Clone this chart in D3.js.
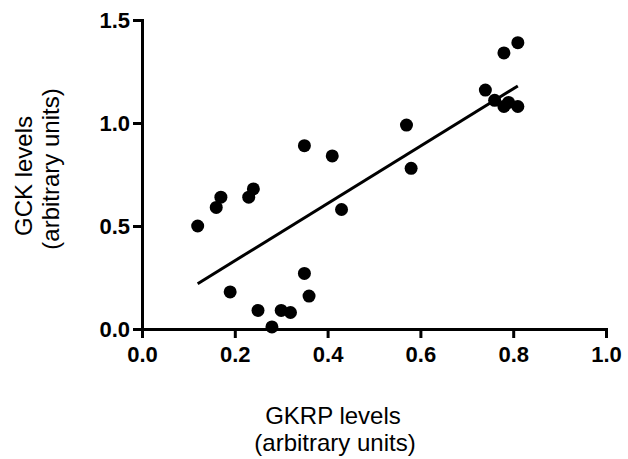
<!DOCTYPE html>
<html>
<head>
<meta charset="utf-8">
<script src="https://cdn.jsdelivr.net/npm/d3@7"></script>
<style>
  body { margin: 0; background: #fff; }
  text { font-family: "Liberation Sans", Arial, sans-serif; }
</style>
</head>
<body>
<div id="chart"></div>
<script>
// Values
const gkrp = [0.12, 0.16, 0.17, 0.19, 0.23, 0.24, 0.25, 0.28, 0.30, 0.32, 0.35, 0.36,
              0.35, 0.41, 0.43, 0.57, 0.58, 0.74, 0.76, 0.78, 0.79, 0.81, 0.78, 0.81];
const gck  = [0.50, 0.59, 0.64, 0.18, 0.64, 0.68, 0.09, 0.01, 0.09, 0.08, 0.27, 0.16,
              0.89, 0.84, 0.58, 0.99, 0.78, 1.16, 1.11, 1.08, 1.10, 1.08, 1.34, 1.39];
const xTicks = [0.0, 0.2, 0.4, 0.6, 0.8, 1.0];
const yTicks = [0.0, 0.5, 1.0, 1.5];

const data = gkrp.map((x, i) => ({x: x, y: gck[i]}));

const width = 628, height = 459;

const svg = d3.select("#chart")
    .append("svg")
    .attr("width", width)
    .attr("height", height);

const xScale = d3.scaleLinear()
    .domain([0, 1])
    .range([142, 606]);

const yScale = d3.scaleLinear()
    .domain([0, 1.5])
    .range([329, 20]);

// Axes
const yAxis = svg.append("g")
    .attr("transform", `translate(${xScale(0)},0)`)
    .call(d3.axisLeft(yScale).tickValues(yTicks).tickFormat(d3.format(".1f"))
        .tickSizeOuter(0).tickSize(9).tickPadding(3));

const xAxis = svg.append("g")
    .attr("transform", `translate(0,${yScale(0)})`)
    .call(d3.axisBottom(xScale).tickValues(xTicks).tickFormat(d3.format(".1f"))
        .tickSizeOuter(0).tickSize(9).tickPadding(8));

[xAxis, yAxis].forEach(function(ax) {
    ax.select(".domain").attr("stroke", "#000").attr("stroke-width", 3);
    ax.selectAll(".tick line").attr("stroke", "#000").attr("stroke-width", 3);
    ax.selectAll(".tick text")
        .attr("fill", "#000")
        .style("font-size", "22px")
        .style("font-weight", "bold")
        .style("font-family", "'Liberation Sans', Arial, sans-serif");
});

// Least squares fit through the points
const mx = d3.mean(gkrp), my = d3.mean(gck);
const slope = d3.sum(data, d => (d.x - mx) * (d.y - my)) / d3.sum(data, d => (d.x - mx) ** 2);
const intercept = my - slope * mx;
const fitX = d3.extent(gkrp);

svg.append("line")
    .attr("x1", xScale(fitX[0]))
    .attr("y1", yScale(intercept + slope * fitX[0]))
    .attr("x2", xScale(fitX[1]))
    .attr("y2", yScale(intercept + slope * fitX[1]))
    .attr("stroke", "#000")
    .attr("stroke-width", 3);

// Points
svg.selectAll("circle")
    .data(data)
    .enter().append("circle")
    .attr("cx", d => xScale(d.x))
    .attr("cy", d => yScale(d.y))
    .attr("r", 6.5)
    .style("fill", "#000");

// x-axis label
const xLabel = svg.append("text")
    .attr("text-anchor", "middle")
    .style("font-size", "24px")
    .attr("fill", "#000");
xLabel.append("tspan").attr("x", 333).attr("y", 424).text("GKRP levels");
xLabel.append("tspan").attr("x", 335).attr("y", 451).text("(arbitrary units)");

// y-axis label
const yLabel = svg.append("text")
    .attr("text-anchor", "middle")
    .attr("transform", "rotate(-90)")
    .style("font-size", "24px")
    .attr("fill", "#000");
yLabel.append("tspan").attr("x", -176).attr("y", 32).text("GCK levels");
yLabel.append("tspan").attr("x", -169).attr("y", 59).text("(arbitrary units)");
</script>
</body>
</html>
